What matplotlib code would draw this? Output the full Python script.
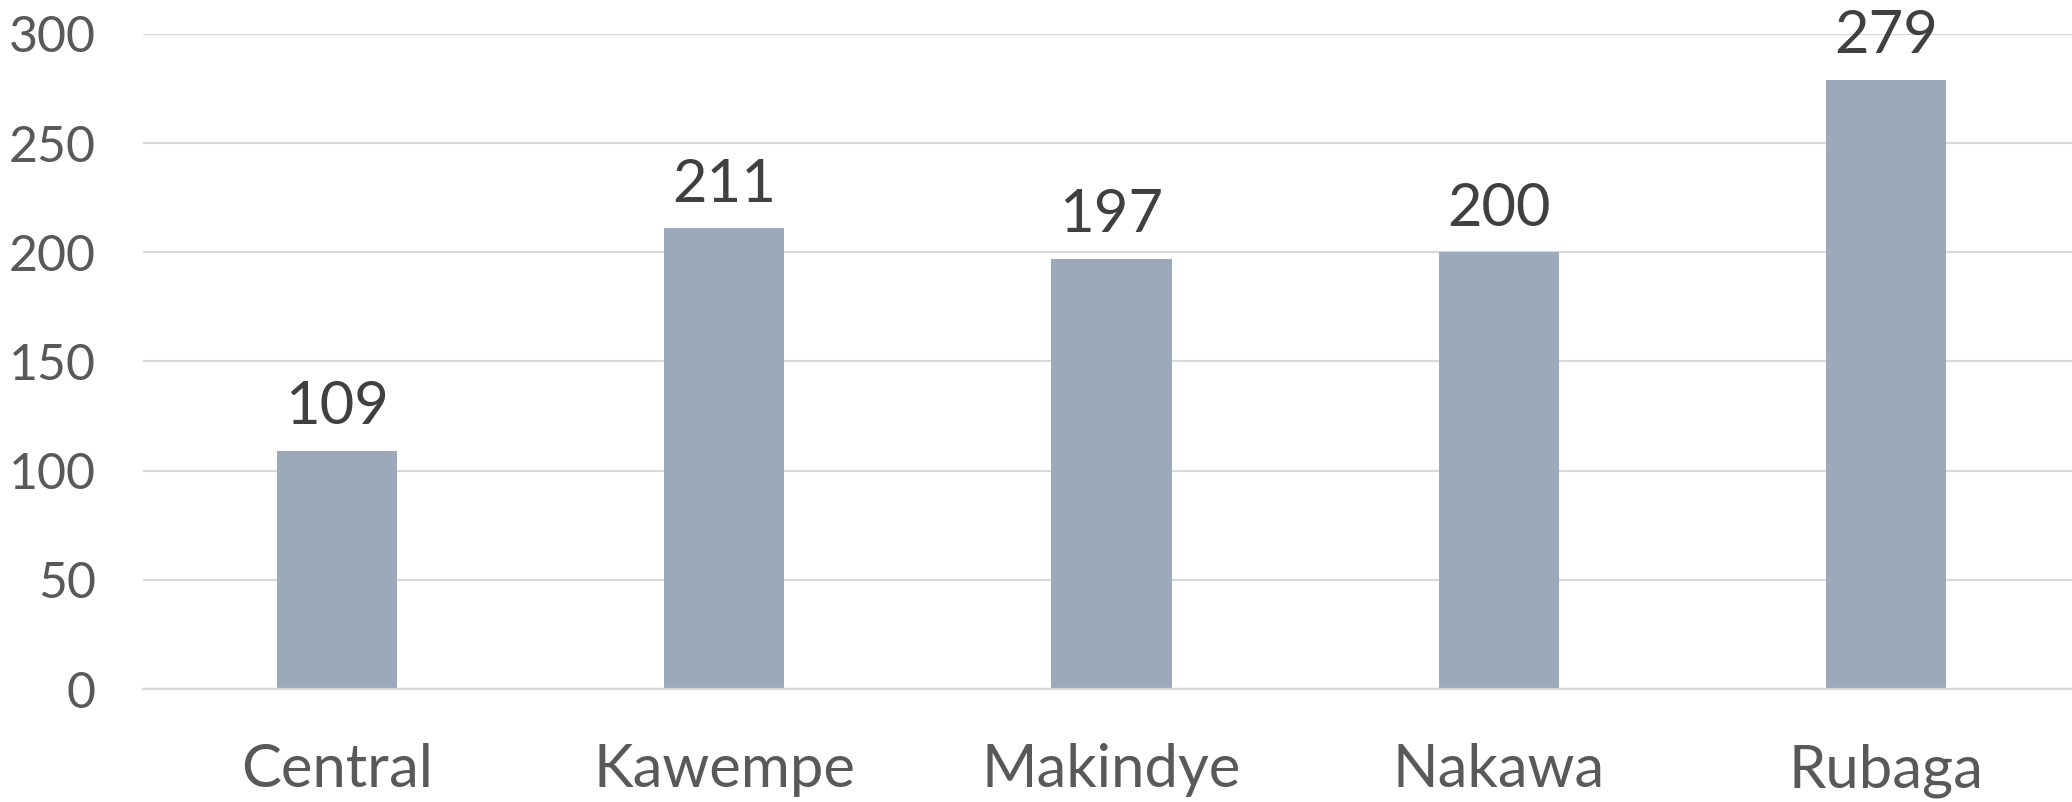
import matplotlib
matplotlib.use("Agg")
import matplotlib.pyplot as plt

# chart data
divisions = ["Central", "Kawempe", "Makindye", "Nakawa", "Rubaga"]
counts = [109, 211, 197, 200, 279]
y_ticks = [0, 50, 100, 150, 200, 250, 300]

plt.rcParams["font.family"] = ["Lato", "DejaVu Sans"]

W, H = 2072, 802
fig = plt.figure(figsize=(W / 100, H / 100), dpi=100)
ax = fig.add_axes([143 / W, 1 - 689 / H, (2080 - 143) / W, (689 - 34) / H])

x = range(len(divisions))
bars = ax.bar(x, counts, width=0.31, color="#9CA9B8", zorder=2)

for rect, val in zip(bars, counts):
    ax.annotate(str(val), (rect.get_x() + rect.get_width() / 2, val),
                xytext=(0, 12), textcoords="offset points",
                ha="center", va="bottom", fontsize=43, color="#404040",
                annotation_clip=False)

ax.set_xlim(-0.5, len(divisions) - 0.5)
ax.set_ylim(0, 300)
ax.set_yticks(y_ticks)
ax.set_xticks(list(x))
ax.set_xticklabels(divisions)

ax.grid(axis="y", color="#D9D9D9", linewidth=1.6, zorder=0)
for side in ["top", "right", "left"]:
    ax.spines[side].set_visible(False)
ax.spines["bottom"].set_color("#D9D9D9")
ax.spines["bottom"].set_linewidth(1.6)

ax.tick_params(axis="y", length=0, pad=34, labelsize=36, labelcolor="#595959")
ax.tick_params(axis="x", length=0, pad=39, labelsize=43, labelcolor="#595959")

fig.savefig("out.png", dpi=100)
